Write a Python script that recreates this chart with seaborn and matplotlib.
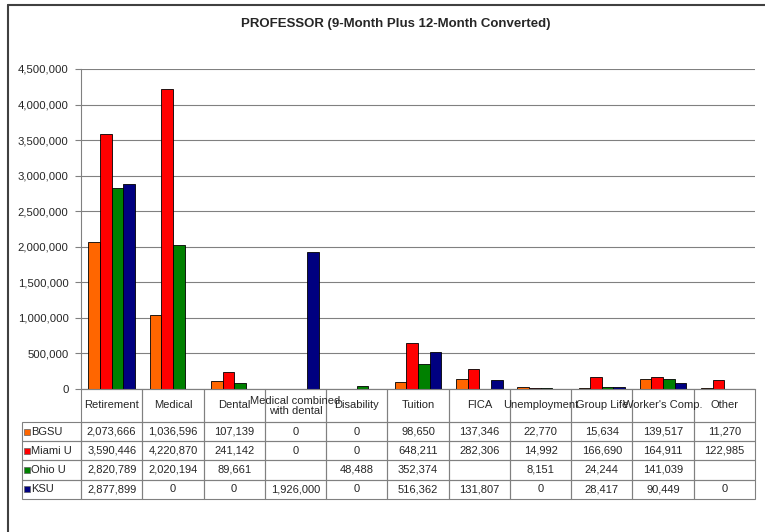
import numpy as np
import pandas as pd
import seaborn as sns
import matplotlib.pyplot as plt
from matplotlib.patches import Rectangle
from matplotlib.lines import Line2D
from matplotlib.ticker import FuncFormatter

categorias = ['Retirement', 'Medical', 'Dental', 'Medical combined\nwith dental', 'Disability',
              'Tuition', 'FICA', 'Unemployment', 'Group Life', "Worker's Comp.", 'Other']
universidades = ['BGSU', 'Miami U', 'Ohio U', 'KSU']
colores = ['#FF6600', '#FF0000', '#008000', '#000080']

bgsu = [2073666, 1036596, 107139, 0, 0, 98650, 137346, 22770, 15634, 139517, 11270]
miami = [3590446, 4220870, 241142, 0, 0, 648211, 282306, 14992, 166690, 164911, 122985]
ohio = [2820789, 2020194, 89661, np.nan, 48488, 352374, np.nan, 8151, 24244, 141039, np.nan]
ksu = [2877899, 0, 0, 1926000, 0, 516362, 131807, 0, 28417, 90449, 0]

series = [bgsu, miami, ohio, ksu]

filas = []
for uni, vals in zip(universidades, series):
    for cat, v in zip(categorias, vals):
        filas.append({'Categoria': cat, 'Universidad': uni, 'Valor': v})
datos = pd.DataFrame(filas)

sns.set_style('white')
plt.rcParams['font.family'] = ['Liberation Sans', 'DejaVu Sans']

W, H = 765, 532
fig = plt.figure(figsize=(W / 100, H / 100), dpi=100)
# area de grafico en pixeles
izq, der, arriba, abajo = 81, 755, 69, 389
ax = fig.add_axes([izq / W, 1 - abajo / H, (der - izq) / W, (abajo - arriba) / H])

sns.barplot(data=datos, x='Categoria', y='Valor', hue='Universidad', order=categorias,
            hue_order=universidades, palette=colores, saturation=1, width=0.76, gap=0,
            edgecolor='black', linewidth=0.6, legend=False, ax=ax, zorder=3)

ax.set_xlim(-0.5, len(categorias) - 0.5)
ax.set_ylim(0, 4500000)
ax.set_yticks(np.arange(0, 4500001, 500000))
ax.yaxis.set_major_formatter(FuncFormatter(lambda v, p: f'{v:,.0f}'))
ax.tick_params(axis='y', labelsize=8.2, length=4, width=0.8, color='#808080', left=True, pad=5)
ax.set_xticks([])
ax.set_xlabel('')
ax.set_ylabel('')
ax.grid(axis='y', color='#808080', linewidth=0.8, zorder=0)
ax.set_axisbelow(True)
for lado in ['top', 'right']:
    ax.spines[lado].set_visible(False)
for lado in ['left', 'bottom']:
    ax.spines[lado].set_color('#808080')
    ax.spines[lado].set_linewidth(0.8)


def px(x, y):
    return x / W, 1 - y / H


def celda(x0, y0, x1, y1):
    fx, fy = px(x0, y1)
    fig.add_artist(Rectangle((fx, fy), (x1 - x0) / W, (y1 - y0) / H, transform=fig.transFigure,
                             facecolor='none', edgecolor='#808080', linewidth=0.8))


# tabla de datos debajo del grafico
ancho_col = (der - izq) / len(categorias)
alto_enc, alto_fila = 33, 19.2
x_etq = 22
for j, cat in enumerate(categorias):
    x0 = izq + j * ancho_col
    celda(x0, abajo, x0 + ancho_col, abajo + alto_enc)
    fx, fy = px(x0 + ancho_col / 2, abajo + alto_enc / 2)
    fig.text(fx, fy, cat, ha='center', va='center', fontsize=8, linespacing=1.0)

for i, (uni, vals, col) in enumerate(zip(universidades, series, colores)):
    y0 = abajo + alto_enc + i * alto_fila
    y1 = y0 + alto_fila
    celda(x_etq, y0, izq, y1)
    fx, fy = px(x_etq + 2, y0 + alto_fila / 2 + 3)
    fig.add_artist(Rectangle((fx, fy), 6 / W, 6 / H, transform=fig.transFigure,
                             facecolor=col, edgecolor='#606060', linewidth=0.5))
    fx, fy = px(x_etq + 9, y0 + alto_fila / 2)
    fig.text(fx, fy, uni, ha='left', va='center', fontsize=8)
    for j, v in enumerate(vals):
        x0 = izq + j * ancho_col
        celda(x0, y0, x0 + ancho_col, y1)
        if not np.isnan(v):
            fx, fy = px(x0 + ancho_col / 2, y0 + alto_fila / 2)
            fig.text(fx, fy, f'{v:,.0f}', ha='center', va='center', fontsize=8)

fx, fy = px(396, 24)
fig.text(fx, fy, 'PROFESSOR (9-Month Plus 12-Month Converted)', ha='center', va='center',
         fontsize=9.5, fontweight='bold')

# marco exterior
fig.add_artist(Line2D([8 / W, 1], [1 - 5 / H, 1 - 5 / H], color='#404040', linewidth=1.5))
fig.add_artist(Line2D([8 / W, 8 / W], [0, 1 - 5 / H], color='#404040', linewidth=1.5))

fig.savefig('out.png', dpi=100)
